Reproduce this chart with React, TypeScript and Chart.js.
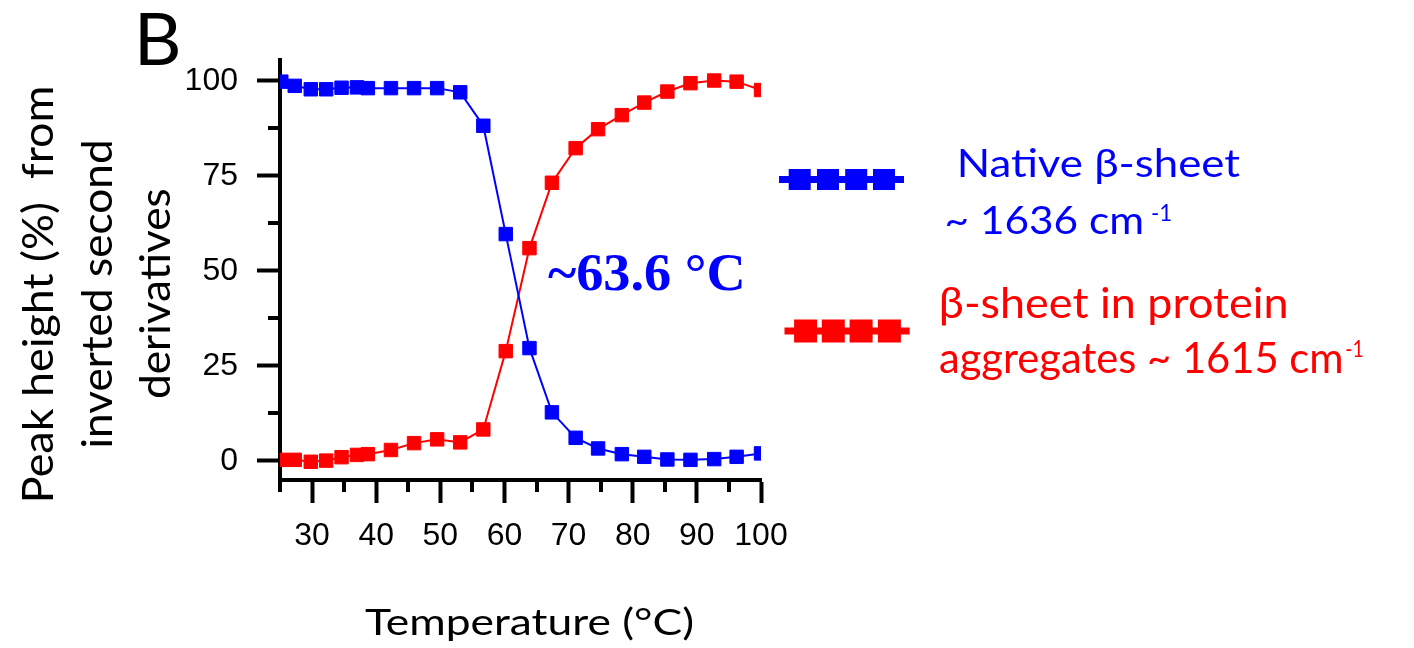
import React, { useEffect, useRef } from 'react';
import { Chart, registerables } from 'chart.js';

Chart.register(...registerables);

// ---- data ----
const temperatures = [25.2, 27.3, 29.8, 32.2, 34.6, 37.0, 38.7, 42.3, 45.9, 49.5, 53.1, 56.7, 60.2, 63.9, 67.4, 71.1, 74.6, 78.3, 81.8, 85.4, 89.0, 92.7, 96.2, 100.0];
const nativeSheet = [99.8, 98.7, 97.8, 97.8, 98.2, 98.3, 98.1, 98.1, 98.1, 98.1, 97.0, 88.2, 59.7, 29.7, 12.8, 6.1, 3.3, 1.8, 1.1, 0.4, 0.3, 0.5, 1.1, 2.0];
const aggregateSheet = [0.3, 0.3, -0.2, 0.1, 1.0, 1.6, 1.8, 2.9, 4.7, 5.7, 4.9, 8.3, 28.9, 56.0, 73.2, 82.3, 87.3, 91.0, 94.3, 97.2, 99.4, 100.1, 99.8, 97.6];

const xTickValues = [30, 40, 50, 60, 70, 80, 90, 100];
const xMinorTickValues = [25, 35, 45, 55, 65, 75, 85, 95];
const yTickValues = [0, 25, 50, 75, 100];
const yMinorTickValues = [12.5, 37.5, 62.5, 87.5];

const seriesNames = ['Native β-sheet ~ 1636 cm-1', 'β-sheet in protein aggregates ~ 1615 cm-1'];
const nativeLegendLines = ['Native β-sheet', '~ 1636 cm'];
const aggregateLegendLines = ['β-sheet in protein', 'aggregates ~ 1615 cm'];
const superscriptText = '-1';
const yTitleLines = ['Peak height (%)  from', 'inverted second', 'derivatives'];
const xTitle = 'Temperature (°C)';
const panelLabel = 'B';
const transitionLabel = '~63.6 °C';

const BLUE = '#0000FF';
const RED = '#FF0000';
const SANS = 'Lato, "Open Sans", "Noto Sans", sans-serif';

function drawFitted(ctx: CanvasRenderingContext2D, text: string, left: number, baseline: number, font: string, target: number, color: string) {
  ctx.save();
  ctx.font = font;
  ctx.fillStyle = color;
  ctx.textAlign = 'left';
  ctx.textBaseline = 'alphabetic';
  const m = ctx.measureText(text);
  const w = m.actualBoundingBoxLeft + m.actualBoundingBoxRight;
  const s = w > 0 ? target / w : 1;
  ctx.translate(left, baseline);
  ctx.scale(s, 1);
  ctx.fillText(text, m.actualBoundingBoxLeft, 0);
  ctx.restore();
}

function drawLegendSymbol(ctx: CanvasRenderingContext2D, x1: number, x2: number, y: number, centers: number[], w: number, h: number, color: string) {
  ctx.save();
  ctx.fillStyle = color;
  ctx.fillRect(x1, y - 3.5, x2 - x1, 7);
  for (const c of centers) ctx.fillRect(c - w / 2, y - h / 2, w, h);
  ctx.restore();
}

const overlayPlugin = {
  id: 'overlayPlugin',
  afterDraw(chart: any) {
    const ctx: CanvasRenderingContext2D = chart.ctx;
    const xs = chart.scales.x;
    const ys = chart.scales.y;
    // minor ticks
    ctx.save();
    ctx.strokeStyle = '#000';
    ctx.lineWidth = 4;
    ctx.beginPath();
    for (const v of xMinorTickValues) {
      const px = Math.round(xs.getPixelForValue(v));
      ctx.moveTo(px, ys.bottom);
      ctx.lineTo(px, ys.bottom + 12);
    }
    for (const v of yMinorTickValues) {
      const py = Math.round(ys.getPixelForValue(v));
      ctx.moveTo(xs.left, py);
      ctx.lineTo(xs.left - 12, py);
    }
    ctx.stroke();
    ctx.restore();

    // panel label
    drawFitted(ctx, panelLabel, 140, 65, `72px ${SANS}`, 38, '#000');

    // y title (rotated, 3 lines)
    const yBase = [53, 111.5, 170];
    const yLens = [412, 305, 208];
    yTitleLines.forEach((line, i) => {
      ctx.save();
      ctx.translate(yBase[i], 294);
      ctx.rotate(-Math.PI / 2);
      drawFitted(ctx, line, -yLens[i] / 2, 0, `43px ${SANS}`, yLens[i], '#000');
      ctx.restore();
    });

    // x title
    drawFitted(ctx, xTitle, 365, 635, `36px ${SANS}`, 327, '#000');

    // transition annotation
    drawFitted(ctx, transitionLabel, 548, 290, `bold 52px "Liberation Serif", "Times New Roman", serif`, 194, BLUE);

    // legend
    drawLegendSymbol(ctx, 779, 904, 179.5, [799.7, 828, 856.2, 884], 22, 21, BLUE);
    drawLegendSymbol(ctx, 784.5, 909.7, 331, [805.6, 833.3, 861.1, 889.4], 23, 23, RED);

    drawFitted(ctx, nativeLegendLines[0], 960, 177.3, `39px ${SANS}`, 280, BLUE);
    drawFitted(ctx, nativeLegendLines[1], 946.7, 234, `39px ${SANS}`, 195, BLUE);
    drawFitted(ctx, superscriptText, 1152, 221, `23px ${SANS}`, 19, BLUE);

    drawFitted(ctx, aggregateLegendLines[0], 941, 318, `42px ${SANS}`, 345, RED);
    drawFitted(ctx, aggregateLegendLines[1], 940, 373, `42px ${SANS}`, 401, RED);
    drawFitted(ctx, superscriptText, 1346, 357, `24px ${SANS}`, 17, RED);
  },
};

export default function App() {
  const ref = useRef<HTMLCanvasElement>(null);

  useEffect(() => {
    const canvas = ref.current;
    if (!canvas) return;
    const tickFont = { family: '"Liberation Sans", Arial, sans-serif', size: 32 };
    const chart = new Chart(canvas, {
      type: 'scatter',
      data: {
        datasets: [
          {
            label: seriesNames[0],
            data: temperatures.map((t, i) => ({ x: t, y: nativeSheet[i] })),
            showLine: true,
            borderColor: BLUE,
            backgroundColor: BLUE,
            borderWidth: 2,
            pointStyle: 'rect',
            pointRadius: 9.5,
            pointBorderWidth: 1,
            pointBorderColor: BLUE,
            pointBackgroundColor: BLUE,
            tension: 0,
          },
          {
            label: seriesNames[1],
            data: temperatures.map((t, i) => ({ x: t, y: aggregateSheet[i] })),
            showLine: true,
            borderColor: RED,
            backgroundColor: RED,
            borderWidth: 2,
            pointStyle: 'rect',
            pointRadius: 9.5,
            pointBorderWidth: 1,
            pointBorderColor: RED,
            pointBackgroundColor: RED,
            tension: 0,
          },
        ],
      },
      options: {
        responsive: false,
        animation: false,
        devicePixelRatio: 1,
        layout: { padding: { left: 0, top: 60, right: 1414 - 761, bottom: 0 } },
        plugins: {
          legend: { display: false },
          tooltip: { enabled: false },
          title: { display: false },
        },
        scales: {
          x: {
            type: 'linear',
            position: 'bottom',
            min: 25,
            max: 100,
            z: 1,
            border: { display: true, width: 4, color: '#000' },
            grid: { drawOnChartArea: false, drawTicks: true, tickLength: 23, tickWidth: 4, tickColor: '#000' },
            ticks: { font: tickFont, color: '#000', padding: 14, maxRotation: 0, autoSkip: false },
            afterBuildTicks: (scale: any) => {
              scale.ticks = xTickValues.map((v) => ({ value: v }));
            },
            afterFit: (scale: any) => {
              scale.height = 648 - 480;
            },
          },
          y: {
            type: 'linear',
            position: 'left',
            min: -5,
            max: 105.5,
            z: 1,
            border: { display: true, width: 4, color: '#000' },
            grid: { drawOnChartArea: false, drawTicks: true, tickLength: 23, tickWidth: 4, tickColor: '#000' },
            ticks: { font: tickFont, color: '#000', padding: 19, autoSkip: false },
            afterBuildTicks: (scale: any) => {
              scale.ticks = yTickValues.map((v) => ({ value: v }));
            },
            afterFit: (scale: any) => {
              scale.width = 280;
            },
          },
        },
      },
      plugins: [overlayPlugin],
    } as any);
    return () => chart.destroy();
  }, []);

  return (
    <div style={{ position: 'fixed', left: 0, top: 0, width: 1414, height: 648, background: '#fff' }}>
      <canvas ref={ref} width={1414} height={648} style={{ display: 'block', width: 1414, height: 648 }} />
    </div>
  );
}
